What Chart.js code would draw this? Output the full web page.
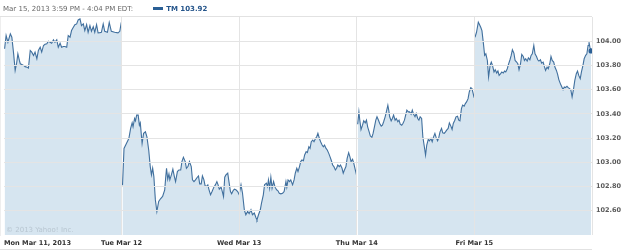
<!DOCTYPE html>
<html>
<head>
<meta charset="utf-8">
<script src="https://cdn.jsdelivr.net/npm/chart.js@4"></script>
<style>
  html,body{margin:0;padding:0;background:#fff;}
  #wrap{position:relative;width:625px;height:250px;overflow:hidden;}
  #hdr{position:absolute;left:3px;top:5px;font:7px "DejaVu Sans",sans-serif;line-height:9px;color:#666;white-space:nowrap;}
  #sw{display:inline-block;width:10px;height:3px;background:#2a5f95;margin-left:20px;margin-right:3px;vertical-align:1px;}
  #tm{font-weight:bold;color:#24548a;}
</style>
</head>
<body>
<div id="wrap">
  <canvas id="c" width="625" height="250"></canvas>
  <div id="hdr">Mar 15, 2013 3:59 PM - 4:04 PM EDT:<span id="sw"></span><span id="tm">TM 103.92</span></div>
</div>
<script>
// x labels at each session open (minutes since Mon open, 390-minute sessions)
const dayLabels = ["Mon Mar 11, 2013", "Tue Mar 12", "Wed Mar 13", "Thu Mar 14", "Fri Mar 15", ""];
const dayStarts = [0, 390, 780, 1170, 1560, 1950];
const yTicks = [102.6, 102.8, 103.0, 103.2, 103.4, 103.6, 103.8, 104.0];

// [minutes into session, price]
const mon = [[2,103.938],[7,104.047],[13,103.992],[21,104.061],[26,104.033],[32,103.896],[37,103.759],[42,103.82],[46,103.896],[51,103.841],[54,103.814],[59,103.808],[65,103.80],[70,103.79],[76,103.786],[81,103.778],[87,103.924],[92,103.91],[98,103.882],[103,103.91],[109,103.855],[114,103.924],[120,103.951],[125,103.91],[131,103.965],[136,103.975],[142,103.979],[147,104.0],[153,103.992],[158,103.984],[164,104.011],[169,103.992],[175,104.011],[180,103.951],[186,103.984],[191,103.951],[197,103.957],[202,103.957],[208,103.951],[213,104.047],[219,104.033],[224,104.088],[230,104.115],[235,104.137],[241,104.143],[246,104.176],[252,104.184],[257,104.129],[263,104.143],[268,104.088],[274,104.137],[279,104.074],[285,104.129],[290,104.082],[296,104.12],[301,104.074],[307,104.137],[312,104.069],[318,104.071],[323,104.074],[329,104.143],[334,104.082],[343,104.074],[349,104.156],[356,104.082],[367,104.074],[378,104.069],[384,104.082],[389,104.156]];

const tue = [[3,102.81],[8,103.115],[16,103.156],[24,103.197],[30,103.28],[35,103.326],[38,103.293],[43,103.362],[46,103.343],[50,103.39],[55,103.39],[59,103.307],[62,103.326],[68,103.156],[73,103.239],[79,103.252],[84,103.21],[90,103.10],[95,102.965],[99,102.896],[103,102.951],[107,102.882],[112,102.69],[117,102.594],[123,102.677],[129,102.699],[136,102.718],[143,102.773],[146,102.869],[149,102.951],[153,102.86],[157,102.904],[160,102.855],[165,102.896],[170,102.943],[175,102.882],[179,102.841],[185,102.924],[190,102.937],[196,102.937],[200,103.006],[205,103.041],[211,103.006],[215,102.951],[220,102.965],[225,103.006],[231,102.965],[235,102.855],[240,102.841],[245,102.855],[251,102.877],[255,102.888],[259,102.822],[264,102.822],[268,102.888],[273,102.855],[277,102.806],[281,102.80],[286,102.814],[290,102.773],[295,102.732],[300,102.759],[306,102.795],[311,102.814],[316,102.841],[320,102.814],[324,102.778],[330,102.795],[334,102.759],[338,102.718],[342,102.877],[346,102.896],[352,102.91],[356,102.841],[361,102.759],[365,102.74],[370,102.767],[374,102.778],[379,102.773],[385,102.759],[390,102.732]];

const wed = [[1,102.75],[6,102.814],[11,102.745],[17,102.608],[22,102.567],[28,102.595],[33,102.576],[39,102.608],[44,102.567],[50,102.581],[56,102.54],[59,102.526],[64,102.567],[70,102.608],[74,102.663],[80,102.732],[84,102.814],[90,102.828],[94,102.80],[97,102.855],[101,102.787],[105,102.877],[109,102.787],[114,102.841],[119,102.795],[124,102.773],[128,102.767],[133,102.745],[138,102.74],[144,102.745],[149,102.759],[155,102.841],[158,102.795],[162,102.855],[167,102.841],[171,102.855],[177,102.814],[182,102.855],[186,102.91],[191,102.951],[195,102.924],[200,102.965],[204,103.006],[208,103.02],[213,103.014],[217,103.061],[222,103.088],[226,103.08],[231,103.129],[235,103.115],[239,103.17],[244,103.184],[248,103.17],[253,103.197],[257,103.211],[261,103.239],[266,103.197],[270,103.17],[275,103.143],[279,103.129],[283,103.143],[288,103.115],[292,103.102],[297,103.074],[301,103.047],[305,103.019],[310,102.978],[314,102.965],[319,102.937],[323,102.951],[327,102.978],[332,102.965],[336,102.978],[341,102.951],[345,102.91],[349,102.937],[354,102.965],[358,103.033],[363,103.08],[367,103.047],[371,103.006],[376,103.025],[380,102.992],[385,102.937],[389,102.896]];

const thu = [[3,103.315],[7,103.417],[10,103.348],[14,103.271],[19,103.307],[23,103.343],[28,103.326],[32,103.348],[36,103.293],[41,103.252],[45,103.217],[50,103.206],[54,103.239],[59,103.299],[63,103.348],[67,103.376],[72,103.348],[76,103.321],[81,103.299],[85,103.307],[89,103.335],[94,103.376],[98,103.417],[103,103.472],[106,103.43],[109,103.376],[114,103.343],[118,103.362],[122,103.39],[127,103.348],[131,103.362],[136,103.335],[140,103.348],[144,103.315],[149,103.307],[153,103.321],[158,103.348],[162,103.39],[166,103.431],[171,103.417],[175,103.417],[180,103.398],[184,103.431],[188,103.398],[193,103.376],[197,103.403],[202,103.362],[206,103.348],[210,103.376],[215,103.362],[219,103.211],[224,103.129],[228,103.06],[232,103.143],[237,103.19],[241,103.178],[246,103.197],[250,103.17],[254,103.206],[259,103.239],[263,103.206],[268,103.178],[272,103.206],[276,103.252],[281,103.28],[285,103.244],[290,103.239],[294,103.252],[298,103.266],[303,103.28],[307,103.326],[312,103.299],[316,103.271],[320,103.321],[325,103.348],[329,103.376],[334,103.381],[338,103.348],[342,103.343],[347,103.444],[351,103.472],[356,103.463],[360,103.485],[364,103.499],[369,103.526],[373,103.581],[378,103.617],[382,103.609],[386,103.568],[389,103.534]];

const fri = [[2,104.033],[7,104.074],[13,104.157],[16,104.143],[21,104.115],[25,104.088],[30,103.978],[34,103.883],[38,103.896],[43,103.841],[47,103.704],[52,103.80],[56,103.828],[60,103.80],[65,103.746],[69,103.765],[74,103.737],[78,103.754],[82,103.718],[87,103.732],[91,103.746],[96,103.737],[100,103.754],[104,103.746],[109,103.773],[113,103.809],[118,103.847],[122,103.883],[126,103.929],[131,103.902],[135,103.841],[140,103.828],[144,103.814],[148,103.765],[153,103.814],[157,103.891],[162,103.874],[166,103.841],[170,103.855],[175,103.836],[179,103.863],[184,103.847],[188,103.883],[192,103.896],[197,103.965],[201,103.896],[206,103.874],[210,103.847],[214,103.836],[219,103.847],[223,103.819],[228,103.828],[232,103.792],[236,103.759],[241,103.787],[245,103.773],[250,103.814],[254,103.874],[258,103.841],[263,103.828],[267,103.787],[272,103.759],[276,103.726],[280,103.683],[285,103.65],[289,103.628],[294,103.60],[298,103.622],[302,103.617],[307,103.628],[311,103.617],[316,103.609],[320,103.595],[324,103.54],[329,103.609],[333,103.677],[338,103.732],[342,103.754],[346,103.718],[351,103.691],[355,103.746],[360,103.80],[364,103.855],[369,103.883],[373,103.896],[377,103.965],[380,103.992],[383,103.951],[387,103.92]];

function pts(arr, offset){ return arr.map(p => ({x: p[0] + offset, y: p[1]})); }

const lineColor = '#41709e';
const fillColor = '#d6e5f0';
function ds(data, isLast){
  return {
    data: data,
    borderColor: lineColor,
    backgroundColor: fillColor,
    borderWidth: 1.1,
    fill: 'start',
    tension: 0,
    pointRadius: isLast ? (ctx => ctx.dataIndex === data.length - 1 ? 2.6 : 0) : 0,
    pointBackgroundColor: '#2a5f95',
    pointBorderWidth: 0,
    pointHoverRadius: 0
  };
}

const decor = {
  id: 'decor',
  beforeDraw(chart){
    const c = chart.ctx, a = chart.chartArea;
    c.save();
    c.strokeStyle = '#e2e2e2';
    c.lineWidth = 1;
    c.beginPath();
    c.moveTo(0, a.top - 0.5); c.lineTo(a.right, a.top - 0.5);
    c.moveTo(0, chart.height - 0.5); c.lineTo(a.right, chart.height - 0.5);
    c.stroke();
    c.restore();
  },
  afterDatasetsDraw(chart){
    const c = chart.ctx, a = chart.chartArea;
    c.save();
    c.font = '7px "DejaVu Sans", sans-serif';
    c.fillStyle = '#b8c6d1';
    c.textBaseline = 'middle';
    c.fillText('\u00A9 2013 Yahoo! Inc.', a.left + 2, a.bottom - 5);
    c.restore();
  }
};

new Chart(document.getElementById('c'), {
  type: 'line',
  data: {
    datasets: [
      ds(pts(mon, dayStarts[0]), false),
      ds(pts(tue, dayStarts[1]).concat(pts(wed, dayStarts[2])), false),
      ds(pts(thu, dayStarts[3]), false),
      ds(pts(fri, dayStarts[4]), true)
    ]
  },
  options: {
    responsive: false,
    animation: false,
    devicePixelRatio: 1,
    layout: { padding: { top: 17, left: 2, right: 0, bottom: 0 } },
    plugins: { legend: { display: false }, tooltip: { enabled: false } },
    scales: {
      x: {
        type: 'linear',
        min: 0, max: 1950,
        afterBuildTicks: s => { s.ticks = dayStarts.map(v => ({value: v})); },
        afterFit: s => { s.height = 15; },
        grid: { z: 1, drawTicks: false, color: ctx => ctx.index === 0 ? 'rgba(0,0,0,0)' : '#e4e4e4' },
        border: { display: false },
        ticks: {
          align: 'inner', autoSkip: false, maxRotation: 0, padding: 4,
          color: '#333',
          font: { family: '"DejaVu Sans", sans-serif', size: 6.6, weight: 'bold' },
          callback: (v, i) => dayLabels[i]
        }
      },
      y: {
        position: 'right',
        min: 102.4, max: 104.2,
        afterBuildTicks: s => { s.ticks = yTicks.map(v => ({value: v})); },
        afterFit: s => { s.width = 33; },
        grid: { z: 1, drawTicks: false, color: '#e4e4e4' },
        border: { display: true, color: '#dedede' },
        ticks: {
          padding: 4,
          color: '#5a5a5a',
          font: { family: '"DejaVu Sans", sans-serif', size: 6.5, weight: 'bold' },
          callback: v => Number(v).toFixed(2)
        }
      }
    }
  },
  plugins: [decor]
});
</script>
</body>
</html>
